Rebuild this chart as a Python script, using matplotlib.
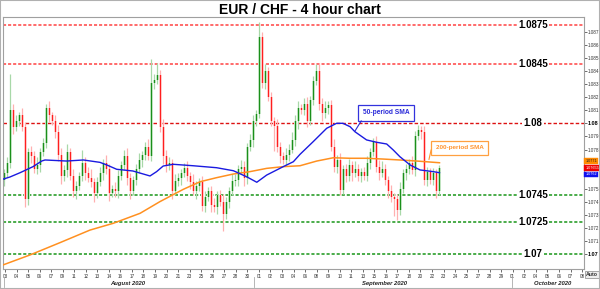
import matplotlib
matplotlib.use("Agg")
import matplotlib.pyplot as plt
import matplotlib.transforms as mtransforms
from matplotlib.patches import Rectangle

# 4H candles, closes (open = previous close)
first_open = 1.0757
closes = [
    1.0762, 1.0770, 1.0810, 1.0797, 1.0802, 1.0806, 1.0797, 1.0742, 1.0778, 1.0775,
    1.0765, 1.0768, 1.0778, 1.0785, 1.0812, 1.0806, 1.0802, 1.0793, 1.0776, 1.0760,
    1.0764, 1.0778, 1.0760, 1.0748, 1.0752, 1.0760, 1.0770, 1.0762, 1.0758, 1.0755,
    1.0747, 1.0755, 1.0762, 1.0770, 1.0765, 1.0747, 1.0750, 1.0748, 1.0760, 1.0768,
    1.0775, 1.0758, 1.0748, 1.0757, 1.0765, 1.0772, 1.0776, 1.0782, 1.0775, 1.0831,
    1.0833, 1.0837, 1.0797, 1.0775, 1.0768, 1.0770, 1.0748, 1.0756, 1.0758, 1.0762,
    1.0766, 1.0760, 1.0755, 1.0748, 1.0752, 1.0755, 1.0737, 1.0744, 1.0748, 1.0738,
    1.0736, 1.0745, 1.0740, 1.0731, 1.0740, 1.0748, 1.0756, 1.0757, 1.0765, 1.0767,
    1.0758, 1.0782, 1.0787, 1.0802, 1.0807, 1.0866, 1.0831, 1.0840, 1.0820, 1.0802,
    1.0798, 1.0782, 1.0775, 1.0772, 1.0776, 1.0780, 1.0787, 1.0802, 1.0812, 1.0810,
    1.0815, 1.0802, 1.0818, 1.0832, 1.0840, 1.0815, 1.0808, 1.0812, 1.0814, 1.0782,
    1.0767, 1.0772, 1.0749, 1.0765, 1.0760, 1.0768, 1.0762, 1.0765, 1.0760, 1.0763,
    1.0760, 1.0770, 1.0778, 1.0786, 1.0767, 1.0762, 1.0765, 1.0757, 1.0748, 1.0744,
    1.0742, 1.0734, 1.0750, 1.0762, 1.0765, 1.0770, 1.0764, 1.0790, 1.0795, 1.0793,
    1.0757, 1.0763, 1.0757, 1.0762, 1.0748, 1.0766,
]
# wick lengths in pips above / below the body
wick_up = [
    3, 4, 28, 5, 4, 3, 6, 4, 3, 5,
    4, 6, 3, 4, 3, 5, 3, 4, 6, 5,
    4, 6, 3, 5, 4, 3, 10, 4, 5, 7,
    3, 4, 5, 3, 6, 4, 3, 5, 4, 3,
    5, 6, 4, 3, 4, 5, 3, 4, 6, 18,
    5, 9, 4, 6, 5, 4, 3, 5, 4, 3,
    4, 5, 3, 6, 4, 3, 5, 4, 3, 4,
    5, 3, 4, 6, 4, 3, 5, 4, 3, 5,
    4, 3, 5, 4, 3, 11, 4, 5, 3, 4,
    3, 5, 4, 3, 5, 4, 6, 4, 5, 3,
    4, 5, 3, 4, 5, 6, 4, 5, 3, 4,
    6, 4, 5, 3, 4, 5, 3, 6, 4, 3,
    4, 5, 3, 3, 4, 5, 6, 4, 3, 5,
    3, 4, 5, 3, 4, 3, 5, 4, 4, 3,
    5, 4, 3, 4, 3, 2,
]
wick_dn = [
    5, 3, 4, 5, 3, 4, 3, 6, 4, 5,
    3, 4, 5, 3, 4, 5, 3, 4, 5, 6,
    4, 5, 3, 4, 6, 3, 4, 5, 3, 4,
    7, 4, 3, 5, 4, 6, 3, 4, 5, 3,
    4, 5, 6, 3, 4, 3, 5, 4, 3, 4,
    5, 3, 4, 6, 5, 4, 6, 3, 4, 5,
    3, 4, 5, 3, 6, 4, 4, 5, 3, 6,
    4, 5, 3, 13, 4, 5, 3, 4, 5, 3,
    6, 4, 3, 5, 4, 3, 4, 5, 3, 4,
    19, 4, 5, 3, 4, 5, 3, 4, 6, 3,
    4, 5, 3, 4, 3, 5, 6, 4, 5, 3,
    4, 5, 4, 3, 5, 4, 6, 3, 4, 5,
    3, 4, 5, 3, 4, 5, 3, 4, 5, 4,
    13, 8, 4, 3, 5, 4, 3, 4, 3, 5,
    4, 5, 3, 4, 5, 3,
]

# moving averages (x in candle index)
sma50_x = [-0.6, 1.8, 5.2, 9.5, 12.4, 13.5, 20.7, 26.3, 31.8, 34.1, 37.4, 42.8, 48.5,
           50.7, 52.9, 56.3, 62.9, 70.7, 76.3, 80.7, 84.1, 87.4, 92.9, 96.3, 98.5,
           102.9, 107.4, 110.7, 112.8, 115.2, 116.8, 120.7, 124.1, 127.4, 129.6,
           131.8, 135.2, 138.5, 142.9, 145.0]
sma50_y = [1.07573, 1.07590, 1.07623, 1.07669, 1.07712, 1.07720, 1.07712, 1.07720,
           1.07702, 1.07682, 1.07649, 1.07636, 1.07598, 1.07631, 1.07674, 1.07687,
           1.07676, 1.07661, 1.07638, 1.07592, 1.07550, 1.07605, 1.07669, 1.07707,
           1.07763, 1.07860, 1.07962, 1.08000, 1.08000, 1.07974, 1.07936, 1.07873,
           1.07855, 1.07842, 1.07796, 1.07745, 1.07682, 1.07644, 1.07631, 1.07623]
sma200_x = [-0.6, 8.5, 18.5, 28.5, 36.3, 45.2, 51.8, 59.6, 65.2, 70.7, 76.3, 81.8,
            87.4, 92.9, 98.5, 104.1, 109.6, 115.2, 120.7, 126.3, 131.8, 137.4, 145.0]
sma200_y = [1.06918, 1.06995, 1.07089, 1.07185, 1.07237, 1.07313, 1.07402, 1.07496,
            1.07554, 1.07585, 1.07613, 1.07631, 1.07656, 1.07669, 1.07676, 1.07712,
            1.07737, 1.07733, 1.07733, 1.07727, 1.07720, 1.07712, 1.07699]

levels = [1.0875, 1.0845, 1.08, 1.0745, 1.0725, 1.07]
level_labels = ["1.0875", "1.0845", "1.08", "1.0745", "1.0725", "1.07"]
level_colors = ["#ff6a6a", "#ff6a6a", "#dd1111", "#4aac4a", "#4aac4a", "#4aac4a"]

price_ticks = [1.070, 1.071, 1.072, 1.073, 1.074, 1.075, 1.076, 1.077, 1.078,
               1.079, 1.080, 1.081, 1.082, 1.083, 1.084, 1.085, 1.086, 1.087]
# 1.076 / 1.077 sit under the value boxes
price_tick_labels = ["1.07", "1.071", "1.072", "1.073", "1.074", "1.075", "",
                     "", "1.078", "1.079", "1.08", "1.081", "1.082", "1.083",
                     "1.084", "1.085", "1.086", "1.087"]

day_labels = ["03", "04", "05", "06", "07", "09", "11", "12", "13", "14", "16",
              "17", "18", "19", "20", "21", "23", "25", "26", "27", "28", "30",
              "01", "02", "03", "04", "06", "08", "09", "10", "11", "13", "15",
              "16", "17", "18", "20", "22", "23", "24", "25", "27", "28", "29",
              "01", "02", "04", "05", "06", "07", "08"]
month_labels = ["August 2020", "September 2020", "October 2020"]

# right-axis value boxes: 200 SMA, last price, 50 SMA
value_boxes = [1.07712, 1.07660, 1.07610]
value_texts = ["1.0771", "1.07655", "1.0762"]
value_colors = ["#ff8a00", "#ee0000", "#1010ee"]

plt.rcParams["font.family"] = ["Liberation Sans", "DejaVu Sans"]

fig = plt.figure(figsize=(6.0, 2.89), dpi=100)
ax = fig.add_axes([3 / 600, 20 / 289, 581 / 600, 252 / 289])
ax.set_xlim(-0.5, 193.17)
ax.set_ylim(1.068878, 1.088115)

# candles
opens = [first_open] + closes[:-1]
for i, (o, c) in enumerate(zip(opens, closes)):
    up = c >= o
    hi = max(o, c) + wick_up[i] * 1e-4
    lo = min(o, c) - wick_dn[i] * 1e-4
    wick_col = "#a8d8a8" if up else "#ffb0b0"
    body_col = "#1b8f1b" if up else "#ff1f1f"
    halo_col = "#bfe3bf" if up else "#ffc8c8"
    ax.vlines(i, lo, hi, color=wick_col, lw=0.9, zorder=2)
    bottom = min(o, c)
    height = max(abs(c - o), 0.00006)
    ax.bar(i, height, bottom=bottom, width=0.95, color=halo_col, zorder=2.1)
    ax.bar(i, height, bottom=bottom, width=0.55, color=body_col, zorder=2.2)

# moving averages
ax.plot(sma200_x, sma200_y, color="#ff9020", lw=1.1, zorder=3)
ax.plot(sma50_x, sma50_y, color="#1a1ae0", lw=1.0, zorder=3.1)

# support / resistance levels
for lvl, lab, col in zip(levels, level_labels, level_colors):
    if lvl == 1.08:
        ax.axhline(lvl, color=col, lw=1.0, dashes=(2.5, 1.5), zorder=1)
    else:
        ax.axhline(lvl, color=col, lw=1.4, dashes=(1.6, 1.0), zorder=1)
    ax.text(176.2, lvl, lab, ha="center", va="center", fontsize=7, fontweight="bold",
            color="black", zorder=5,
            bbox=dict(facecolor="white", edgecolor="none", pad=1.0))

# SMA callouts
ax.text(127.2, 1.08079, "50-period SMA", ha="center", va="center", fontsize=4.8,
        fontweight="bold", color="#2a2ad8", zorder=6,
        bbox=dict(boxstyle="square,pad=0.7", facecolor="white", edgecolor="#3333dd", lw=0.9))
ax.plot([118.9, 116.8], [1.08018, 1.07940], color="#2a2ad8", lw=0.8, zorder=6)
ax.text(151.7, 1.07815, "200-period SMA", ha="center", va="center", fontsize=4.6,
        fontweight="bold", color="#ff9430", zorder=6,
        bbox=dict(boxstyle="square,pad=0.7", facecolor="white", edgecolor="#ffa040", lw=0.9))
ax.plot([142.2, 141.5], [1.07796, 1.07725], color="#ff9430", lw=0.8, zorder=6)

# axes styling
for side in ["left", "top", "right", "bottom"]:
    ax.spines[side].set_color("#a0a0a0")
    ax.spines[side].set_linewidth(0.8)

ax.yaxis.tick_right()
ax.set_yticks(price_ticks)
ax.set_yticklabels(price_tick_labels)
ax.tick_params(axis="y", length=2, width=0.5, pad=1, labelsize=3.3, colors="#333333")
for t in ax.get_yticklabels():
    if t.get_text() in ("1.08", "1.07"):
        t.set_fontweight("bold")
        t.set_fontsize(4.0)
        t.set_color("black")

day_pos = [0.17 + k * 3.847 for k in range(len(day_labels))]
ax.set_xticks(day_pos)
ax.set_xticklabels(day_labels)
ax.tick_params(axis="x", length=2, width=0.5, pad=1.5, labelsize=3.3, colors="#333333")

trans = mtransforms.blended_transform_factory(ax.transData, ax.transAxes)
for xm, lab in zip([41.2, 126.8, 182.8], month_labels):
    ax.text(xm, -0.058, lab, transform=trans, ha="center", va="center", fontsize=4.2,
            fontweight="bold", fontstyle="italic", color="#222222", clip_on=False)
for xs in [-0.3, 83.2, 169.2]:
    ax.plot([xs, xs], [-0.03, -0.072], transform=trans, color="#aaaaaa", lw=0.6,
            clip_on=False)

# value boxes on the price scale
ytrans = mtransforms.blended_transform_factory(ax.transAxes, ax.transData)
for v, txt, col in zip(value_boxes, value_texts, value_colors):
    ax.text(1.002, v, txt, transform=ytrans, ha="left", va="center", fontsize=2.7,
            color="white" if col != "#ff8a00" else "#222222",
            zorder=7, clip_on=False,
            bbox=dict(boxstyle="square,pad=0.2", facecolor=col, edgecolor=col, lw=0.3))

ax.text(1.0035, -0.012, "Auto", transform=ax.transAxes, ha="left", va="top", fontsize=3.8,
        fontweight="bold", color="#333333", clip_on=False,
        bbox=dict(boxstyle="square,pad=0.2", facecolor="#eeeeee", edgecolor="#888888", lw=0.5))

fig.text(0.5, 1 - 10 / 289, "EUR / CHF - 4 hour chart", ha="center", va="center",
         fontsize=10, fontweight="bold", color="black")

fig.add_artist(Rectangle((0, 0), 1, 1, transform=fig.transFigure, fill=False,
                         edgecolor="#b0b0b0", lw=1.5))

fig.savefig("out.png", dpi=100, facecolor="white")
